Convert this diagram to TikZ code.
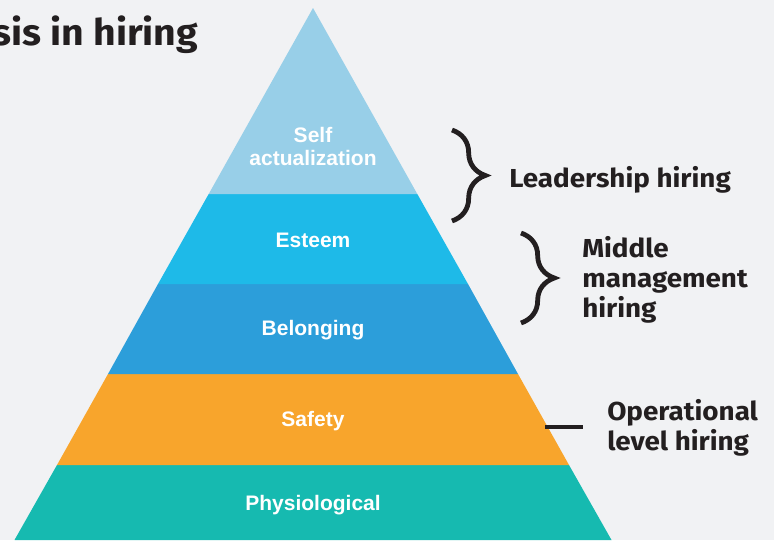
\documentclass[tikz,border=0pt]{standalone}
\usepackage{fontspec}
\setmainfont{Liberation Sans}
\newfontfamily\headfont[FakeStretch=1.07]{Fira Sans}
\usetikzlibrary{decorations.pathreplacing}

\definecolor{bgcol}{HTML}{F1F2F4}
\definecolor{inkcol}{HTML}{231F20}
\definecolor{selfcol}{HTML}{98CFE8}
\definecolor{esteemcol}{HTML}{1EBAE8}
\definecolor{belongcol}{HTML}{2C9EDA}
\definecolor{safetycol}{HTML}{F8A52C}
\definecolor{physcol}{HTML}{16BAB0}

\tikzset{
  layerlabel/.style={text=white, align=center, inner sep=0pt,
    font=\bfseries\fontsize{15.75}{17.25}\selectfont},
  sidelabel/.style={text=inkcol, align=left, inner sep=0pt,
    font=\headfont\bfseries\fontsize{19.5}{22.5}\selectfont},
  bracket/.style={draw=inkcol, line width=3.6pt,
    decorate, decoration={brace, amplitude=25pt}},
}

\begin{document}
\begin{tikzpicture}[x=0.75pt, y=-0.75pt]
  \useasboundingbox (0,0) rectangle (774,540);
  \fill[bgcol] (0,0) rectangle (774,540);

  % pyramid layers, apex at (313,8), half-width grows 0.561 per px of depth
  \fill[physcol]   (57,465)  -- (569,465) -- (611.5,540) -- (14.5,540) -- cycle;
  \fill[safetycol] (108,374) -- (518,374) -- (569,465) -- (57,465) -- cycle;
  \fill[belongcol] (158,284) -- (468,284) -- (518,374) -- (108,374) -- cycle;
  \fill[esteemcol] (208.7,194) -- (417.3,194) -- (468,284) -- (158,284) -- cycle;
  \fill[selfcol]   (313,8) -- (417.3,194) -- (208.7,194) -- cycle;

  % layer names
  \node[layerlabel] (self)   at (313,146) {Self\\actualization};
  \node[layerlabel] (esteem) at (313,240) {Esteem};
  \node[layerlabel] (belong) at (313,330) {Belonging};
  \node[layerlabel] (safety) at (313,421) {Safety};
  \node[layerlabel] (phys)   at (313,505) {Physiological};

  % heading
  \node[sidelabel, anchor=base west,
        font=\headfont\bfseries\fontsize{27.5}{32}\selectfont] (title) at (-8,45) {sis in hiring};

  % hiring levels
  \coordinate (b1top) at (452,130);
  \coordinate (b1bot) at (452,221);
  \draw[bracket] (b1top) -- (b1bot);
  \node[sidelabel, anchor=base west] (lead) at (509,187) {Leadership hiring};

  \coordinate (b2top) at (521,233);
  \coordinate (b2bot) at (521,323);
  \draw[bracket] (b2top) -- (b2bot);
  \node[sidelabel, anchor=west] (middle) at (582,280) {Middle\\management\\hiring};

  \coordinate (dashL) at (545,427);
  \coordinate (dashR) at (583,427);
  \draw[draw=inkcol, line width=3pt] (dashL) -- (dashR);
  \node[sidelabel, anchor=west] (oper) at (607,428) {Operational\\level hiring};
\end{tikzpicture}
\end{document}
